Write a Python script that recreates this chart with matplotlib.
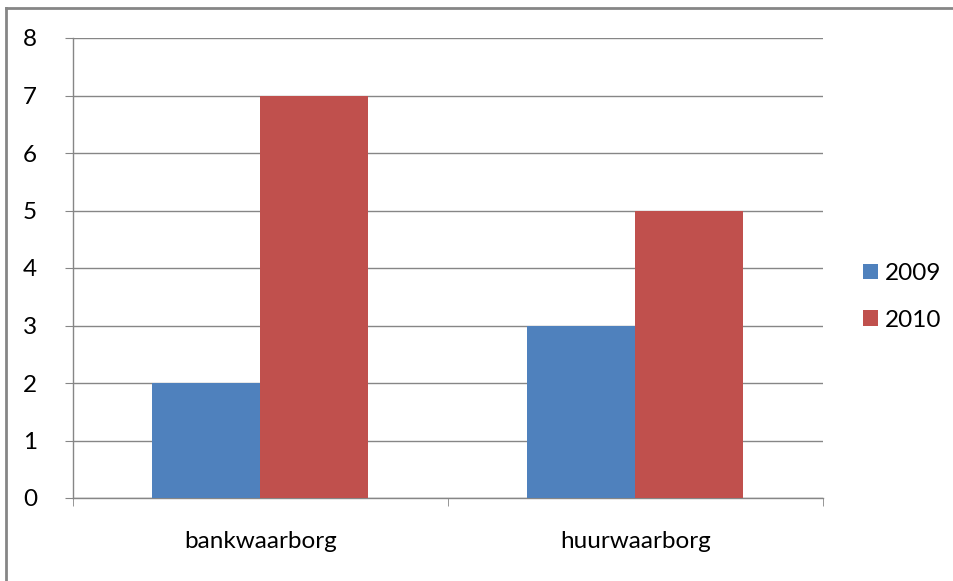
import numpy as np
import matplotlib.pyplot as plt
from matplotlib.lines import Line2D

categories = ["bankwaarborg", "huurwaarborg"]
series_names = ["2009", "2010"]
values_2009 = [2, 3]
values_2010 = [7, 5]
colors = ["#4F81BD", "#C0504D"]

plt.rcParams['font.family'] = ['Lato', 'DejaVu Sans']

W, H = 954, 581
fig = plt.figure(figsize=(W / 100, H / 100), dpi=100)
ax = fig.add_axes([73 / W, 1 - 498 / H, (823 - 73) / W, (498 - 38) / H])

# outer chart border (right/bottom edges cut off in the reference)
fig.add_artist(Line2D([6 / W, 6 / W], [0, 1 - 8 / H], transform=fig.transFigure,
                      color="#868686", lw=2))
fig.add_artist(Line2D([6 / W, 1], [1 - 8 / H, 1 - 8 / H], transform=fig.transFigure,
                      color="#868686", lw=2))

x = np.arange(len(categories))
bw = 108 / 375
ax.bar(x - bw / 2, values_2009, width=bw, color=colors[0], label=series_names[0], zorder=3)
ax.bar(x + bw / 2, values_2010, width=bw, color=colors[1], label=series_names[1], zorder=3)

ax.set_xlim(-0.5, 1.5)
ax.set_ylim(0, 8)
ax.set_yticks(range(0, 9))
ax.yaxis.grid(True, color="#868686", lw=1, zorder=0)
ax.set_axisbelow(True)

for s in ["top", "right"]:
    ax.spines[s].set_visible(False)
for s in ["left", "bottom"]:
    ax.spines[s].set_color("#868686")
    ax.spines[s].set_linewidth(1)

ax.set_xticks(x)
ax.set_xticklabels(categories)
ax.tick_params(axis="x", length=0, pad=24, labelsize=17.5, colors="#000000")
ax.set_xticks([-0.5, 0.5, 1.5], minor=True)
ax.tick_params(axis="x", which="minor", length=6, color="#868686", direction="out")
ax.tick_params(axis="y", length=6, color="#868686", pad=20, labelsize=17.5)

ax.legend(loc="center left", bbox_to_anchor=(863 / W, 1 - 297 / H),
          bbox_transform=fig.transFigure, frameon=False, fontsize=17.5,
          handlelength=0.6, handleheight=0.6, handletextpad=0.3, labelspacing=1.05,
          borderaxespad=0, borderpad=0)

fig.savefig("out.png", dpi=100)
